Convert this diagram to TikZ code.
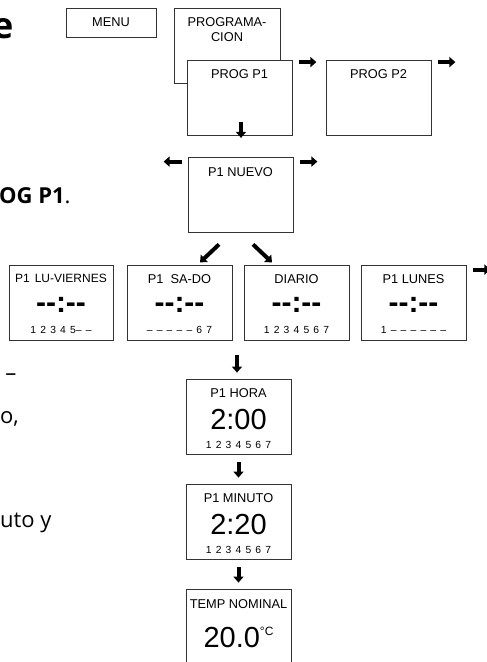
\documentclass[tikz,border=0pt]{standalone}
\usepackage{fontspec}
\setmainfont{Liberation Sans}
\newfontfamily\bodyfont{Open Sans}
\newcommand{\widesp}{\spaceskip=4.2pt plus 0pt minus 0pt\relax}
\usetikzlibrary{arrows.meta,positioning}

\begin{document}
\begin{tikzpicture}[x=1pt,y=-1pt,
  box/.style={draw=black!80, line width=0.8pt, fill=white, minimum width=105pt, minimum height=75pt, inner sep=0pt},
  ttl/.style={font=\fontsize{12.8}{15.5}\selectfont, inner sep=0pt, anchor=north},
  clk/.style={font=\bfseries\fontsize{30}{32}\selectfont, inner sep=0pt},
  big/.style={font=\fontsize{29}{32}\selectfont, inner sep=0pt},
  days/.style={font=\fontsize{10.3}{12}\selectfont, inner sep=0pt},
  blk/.style={line width=4pt, -{Triangle[length=6pt,width=10pt]}},
  txt/.style={font=\bodyfont\fontsize{22}{26}\selectfont, inner sep=0pt}]
\useasboundingbox (0,0) rectangle (487,662);
\clip (0,0) rectangle (487,662);

\node[txt, anchor=base east, font=\bodyfont\bfseries\fontsize{36}{40}\selectfont] (h1) at (13.5,38) {e};
\node[txt, anchor=base west] (h2) at (-1,203) {{\bfseries OG P1}.};
\node[txt, anchor=base east] (h3) at (16.5,380.5) {–};
\node[txt, anchor=base west] (h4) at (0,423) {o,};
\node[txt, anchor=base west] (h5) at (0,527) {uto y};

\node[box, minimum width=90pt, minimum height=29pt, font=\fontsize{12.8}{15}\selectfont] (menu) at (111,22.5) {MENU};
\node[box, minimum width=106pt] (prog) at (227,45.5) {};
\node[ttl, align=center, below=9.4pt of prog.north] (progt) {PROGRAMA-\\CION};
\node[box] (pp1) at (239.5,98) {};
\node[ttl, below=9.4pt of pp1.north] (pp1t) {PROG P1};
\node[box] (pp2) at (378.5,98) {};
\node[ttl, below=9.4pt of pp2.north] (pp2t) {PROG P2};
\node[box] (nuevo) at (240.5,194.5) {};
\node[ttl, below=10.4pt of nuevo.north] (nuevot) {P1 NUEVO};

\node[box, minimum width=104pt] (lv) at (61,302.5) {};
\node[ttl, below=9.7pt of lv.north, font=\fontsize{12}{15}\selectfont] (lvt) {P1\hspace{5pt}LU-VIERNES};
\node[clk] (lvc) at ([yshift=-40pt]lv.north) {-{}-:-{}-};
\node[days] (lvd) at ([yshift=-65pt]lv.north) {\widesp 1 2 3 4 5– –};
\node[box] (sd) at (179.5,302.5) {};
\node[ttl, below=9.4pt of sd.north] (sdt) {P1\hspace{7pt}SA-DO};
\node[clk] (sdc) at ([yshift=-40pt]sd.north) {-{}-:-{}-};
\node[days] (sdd) at ([yshift=-65pt]sd.north) {\widesp – – – – – 6 7};
\node[box] (dia) at (296.5,302.5) {};
\node[ttl, below=9.4pt of dia.north] (diat) {DIARIO};
\node[clk] (diac) at ([yshift=-40pt]dia.north) {-{}-:-{}-};
\node[days] (diad) at ([yshift=-65pt]dia.north) {\widesp 1 2 3 4 5 6 7};
\node[box] (lun) at (413.5,302.5) {};
\node[ttl, below=9.4pt of lun.north] (lunt) {P1 LUNES};
\node[clk] (lunc) at ([yshift=-40pt]lun.north) {-{}-:-{}-};
\node[days] (lund) at ([yshift=-65pt]lun.north) {\widesp 1 – – – – – –};

\node[box] (hora) at (238.5,416.5) {};
\node[ttl, below=9.4pt of hora.north] (horat) {P1 HORA};
\node[big] (horac) at ([yshift=-41pt]hora.north) {2:00};
\node[days] (horad) at ([yshift=-66pt]hora.north) {\widesp 1 2 3 4 5 6 7};
\node[box] (minuto) at (238.5,521.5) {};
\node[ttl, below=9.4pt of minuto.north] (minutot) {P1 MINUTO};
\node[big] (minutoc) at ([yshift=-41pt]minuto.north) {2:20};
\node[days] (minutod) at ([yshift=-66pt]minuto.north) {\widesp 1 2 3 4 5 6 7};
\node[box] (temp) at (238.5,626.5) {};
\node[ttl, below=10.4pt of temp.north] (tempt) {TEMP NOMINAL};
\node[big] (tempc) at ([yshift=-49pt]temp.north) {20.0\raisebox{12.2pt}{\fontsize{12}{12}\selectfont °C}};

\draw[blk] ([shift={(7pt,-2pt)}]pp1.north east) -- ++(17,0);
\draw[blk] ([shift={(7pt,-2pt)}]pp2.north east) -- ++(17,0);
\draw[blk] ([shift={(1.5pt,14pt)}]pp1.south) -- ++(0,16);
\draw[blk] ([shift={(-6pt,-5pt)}]nuevo.north west) -- ++(-18,0);
\draw[blk] ([shift={(7pt,-5pt)}]nuevo.north east) -- ++(17,0);
\draw[blk] ([shift={(-21.5pt,-12pt)}]nuevo.south) -- ++(-19,18);
\draw[blk] ([shift={(12.5pt,-12pt)}]nuevo.south) -- ++(19,18);
\draw[blk] ([shift={(7pt,-5pt)}]lun.north east) -- ++(17,0);
\draw[blk] ([shift={(-1.5pt,24pt)}]hora.north) -- ++(0,18);
\draw[blk, shorten <=8pt, shorten >=6pt] (hora.south) -- (minuto.north);
\draw[blk, shorten <=8pt, shorten >=6pt] (minuto.south) -- (temp.north);
\end{tikzpicture}
\end{document}
